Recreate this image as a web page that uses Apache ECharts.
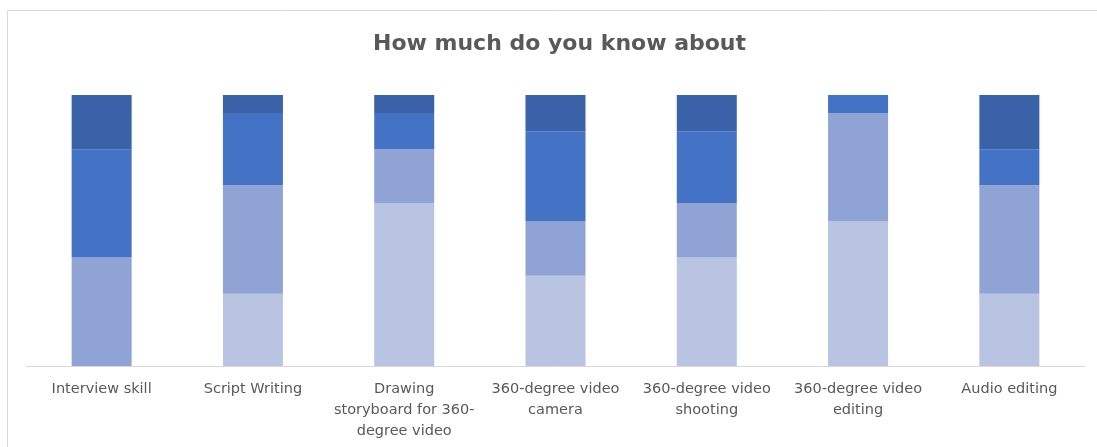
<!DOCTYPE html>
<html>
<head>
<meta charset="utf-8">
<script src="https://cdn.jsdelivr.net/npm/echarts@6/dist/echarts.min.js"></script>
<style>
  html, body { margin: 0; padding: 0; background: #fff; }
  #chart { width: 1097px; height: 447px; }
</style>
</head>
<body>
<div id="chart"></div>
<script>
// categories (line breaks as they wrap under the bars)
const categories = [
  'Interview skill',
  'Script Writing',
  'Drawing\nstoryboard for 360-\ndegree video',
  '360-degree video\ncamera',
  '360-degree video\nshooting',
  '360-degree video\nediting',
  'Audio editing'
]

// number of answers per level, stacked from bottom to top (15 respondents)
const level1 = [0, 4, 9, 5, 6, 8, 4]
const level2 = [6, 6, 3, 3, 3, 6, 6]
const level3 = [6, 4, 2, 5, 4, 1, 2]
const level4 = [3, 1, 1, 2, 2, 0, 3]

const levelNames = ['Level 1', 'Level 2', 'Level 3', 'Level 4']
const levelColors = ['#b9c3e2', '#8fa3d4', '#4472c4', '#3a62a9']

let myChart = echarts.init(document.getElementById('chart'))

let option = {
  animation: false,
  title: {
    text: 'How much do you know about',
    left: 368,
    top: 28,
    textStyle: {
      fontFamily: 'DejaVu Sans',
      fontSize: 22,
      fontWeight: 'bold',
      color: '#595959'
    }
  },
  graphic: [
    {
      type: 'rect',
      shape: { x: 7.5, y: 10.5, width: 1200, height: 600 },
      style: { fill: 'none', stroke: '#d9d9d9', lineWidth: 1 },
      silent: true
    }
  ],
  grid: { left: 26, right: 12, top: 95, bottom: 81 },
  xAxis: {
    type: 'category',
    data: categories,
    axisLine: { lineStyle: { color: '#d9d9d9', width: 1 } },
    axisTick: { show: false },
    axisLabel: {
      interval: 0,
      margin: 13,
      color: '#595959',
      fontFamily: 'DejaVu Sans',
      fontSize: 14.5,
      lineHeight: 21
    }
  },
  yAxis: {
    type: 'value',
    min: 0,
    max: 15,
    show: false,
    splitLine: { show: false }
  },
  series: [level1, level2, level3, level4].map((vals, i) => ({
    name: levelNames[i],
    type: 'bar',
    stack: 'total',
    barWidth: 60,
    data: vals,
    itemStyle: { color: levelColors[i] }
  }))
}

myChart.setOption(option)
</script>
</body>
</html>
